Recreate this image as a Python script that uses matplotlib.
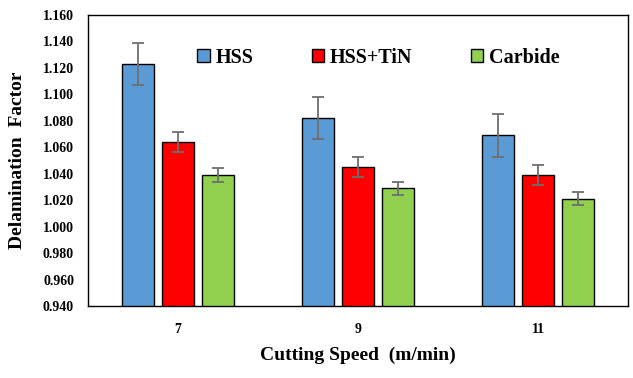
import numpy as np
import matplotlib.pyplot as plt

plt.rcParams['font.family'] = ['Liberation Serif', 'DejaVu Serif']
plt.rcParams['font.weight'] = 'bold'

speeds = ['7', '9', '11']
tools = ['HSS', 'HSS+TiN', 'Carbide']
colors = ['#5B9BD5', '#FF0000', '#92D050']

hss = [1.123, 1.082, 1.069]
hss_tin = [1.064, 1.045, 1.039]
carbide = [1.039, 1.029, 1.021]
hss_err = [0.016, 0.016, 0.016]
hss_tin_err = [0.0075, 0.0075, 0.0075]
carbide_err = [0.005, 0.005, 0.005]

values = [hss, hss_tin, carbide]
errors = [hss_err, hss_tin_err, carbide_err]

fig = plt.figure(figsize=(6.33, 3.78), dpi=100)
ax = fig.add_axes([88/633, 1 - 306/378, 540/633, 291/378])

x = np.arange(len(speeds))
width = 0.175
step = 0.222
for i in range(3):
    ax.bar(x + (i - 1) * step, values[i], width, bottom=0,
           color=colors[i], edgecolor='black', linewidth=1.0, label=tools[i],
           yerr=errors[i], capsize=4,
           error_kw=dict(ecolor='#6E6E6E', elinewidth=1.3, capthick=1.3))

ax.set_xlim(-0.5, 2.5)
ax.set_ylim(0.94, 1.16)
ax.set_yticks(np.arange(0.94, 1.1601, 0.02))
ax.set_yticklabels(['%.3f' % v for v in np.arange(0.94, 1.1601, 0.02)])
ax.set_xticks(x)
ax.set_xticklabels(speeds)
ax.tick_params(axis='both', length=0, labelsize=10, pad=12)
ax.tick_params(axis='y', pad=10)
for s in ax.spines.values():
    s.set_linewidth(1.0)

ax.set_xlabel('Cutting Speed  (m/min)', fontsize=14, fontweight='bold', labelpad=8)
ax.set_ylabel('Delamination  Factor', fontsize=14, fontweight='bold', labelpad=12)

ax.legend(loc='upper center', bbox_to_anchor=(0.538, 0.95), ncol=3, frameon=False,
          handlelength=0.6, handleheight=0.6, handletextpad=0.3,
          columnspacing=2.9, prop={'weight': 'bold', 'size': 14.5})

fig.savefig('out.png', dpi=100)
